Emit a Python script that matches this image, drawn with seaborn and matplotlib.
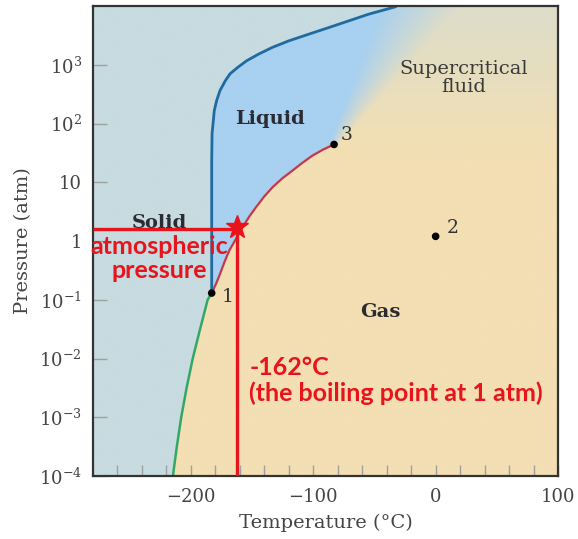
import numpy as np
import matplotlib
matplotlib.use("Agg")
import matplotlib.pyplot as plt
import seaborn as sns
from matplotlib.colors import to_rgb
from matplotlib.ticker import FixedLocator, NullLocator, FixedFormatter

# ---------------- data ----------------
melt_temp = [-183.0, -183.0, -182.7, -180.9, -179.0, -176.3, -171.9, -168.0, -161.8, -154.5,
             -144.7, -133.6, -119.9, -103.6, -87.3, -71.0, -54.7, -32.8]
melt_pres = [0.13, 23, 67, 165, 244, 361, 534, 702, 899, 1167,
             1517, 1967, 2555, 3319, 4297, 5585, 7261, 9700]
vap_temp = [-183.0, -179.4, -176.1, -172.6, -168.6, -163.1, -157.7, -152.3, -146.8, -140.1,
            -133.3, -125.2, -117.0, -108.9, -100.7, -92.0, -83.0]
vap_pres = [0.13, 0.188, 0.278, 0.438, 0.692, 1.09, 1.72, 2.61, 3.76, 5.71,
            8.22, 11.7, 15.8, 21.4, 28.4, 36.0, 44.0]
sub_temp = [-214.7, -211.5, -207.9, -203.5, -198.5, -192.5, -186.3, -183.0]
sub_pres = [1e-4, 3.16e-4, 1e-3, 3.16e-3, 1e-2, 3.16e-2, 1e-1, 0.13]
point_labels = ['1', '2', '3']
point_temp = [-183.0, 0.0, -83.0]
point_pres = [0.13, 1.2, 44.0]
boil_temp = -162.0
star_pres = 1.7
atm_line_pres = 1.6
x_limits = (-280, 100)
y_limits = (1e-4, 1e4)
x_major = [-200, -100, 0, 100]
x_major_labels = ['\u2212200', '\u2212100', '0', '100']
x_minor = list(range(-260, 100, 20))
y_major = [1e-4, 1e-3, 1e-2, 1e-1, 1, 10, 100, 1000]
y_major_labels = [r'$10^{-4}$', r'$10^{-3}$', r'$10^{-2}$', r'$10^{-1}$', '1', '10', r'$10^{2}$', r'$10^{3}$']

# ---------------- style ----------------
sns.set_theme(style="white")
plt.rcParams['font.family'] = ['DejaVu Serif']
plt.rcParams['mathtext.fontset'] = 'dejavuserif'

c_solid = np.array(to_rgb('#c7dbe0'))
c_liq = np.array(to_rgb('#a8d0f0'))
c_gas = np.array(to_rgb('#f3dfb3'))
col_melt = '#1f6aa0'
col_vap = '#c4384c'
col_sub = '#33a866'
col_red = '#e8141c'
txt_col = '#2b2b33'

fig = plt.figure(figsize=(5.78, 5.39), dpi=100)
rect = [93 / 578, 63 / 539, 465 / 578, 470 / 539]

# ---------------- background regions (derived from the curves) ----------------
ax_bg = fig.add_axes(rect)
nx, ny = 760, 800
Tg = np.linspace(x_limits[0], x_limits[1], nx)
LPg = np.linspace(np.log10(y_limits[0]), np.log10(y_limits[1]), ny)
TT, LL = np.meshgrid(Tg, LPg)
lp1 = np.log10(point_pres[0])
lpc = np.log10(point_pres[2])
Tc = point_temp[2]
Ts = np.where(LPg <= lp1,
              np.interp(LPg, np.log10(sub_pres), sub_temp),
              np.interp(LPg, np.log10(melt_pres), melt_temp, right=melt_temp[-1] + 3))[:, None]
Tv = np.interp(LPg, np.log10(vap_pres), vap_temp)[:, None]

m = (np.clip((LL - 1.5) / 2.5, 0, 1) * 0.5)[..., None]
gas = c_gas * (1 - m) + c_solid * m
Lw = np.zeros_like(TT)
below = (LL > lp1) & (LL <= lpc)
Lw = np.where(below & (TT < Tv), 1.0, Lw)
d = LL - lpc
Tb = Tc + 30 * d
w = 8 + 25 * d
Lw = np.where(LL > lpc, np.clip(0.5 - (TT - Tb) / np.maximum(w, 1e-6), 0, 1), Lw)
img = gas * (1 - Lw[..., None]) + c_liq * Lw[..., None]
img = np.where((TT < Ts)[..., None], c_solid, img)
ax_bg.imshow(img, origin='lower', aspect='auto', interpolation='bilinear',
             extent=[x_limits[0], x_limits[1], LPg[0], LPg[-1]])
ax_bg.set_xlim(*x_limits)
ax_bg.set_ylim(LPg[0], LPg[-1])
ax_bg.axis('off')

# ---------------- main axes ----------------
ax = fig.add_axes(rect)
ax.set_facecolor('none')
ax.set_yscale('log')
ax.set_xlim(*x_limits)
ax.set_ylim(*y_limits)

sns.lineplot(x=sub_temp, y=sub_pres, ax=ax, color=col_sub, lw=1.8, sort=False, estimator=None)
sns.lineplot(x=vap_temp, y=vap_pres, ax=ax, color=col_vap, lw=1.6, sort=False, estimator=None)
sns.lineplot(x=melt_temp + [melt_temp[-1] + 3], y=melt_pres + [y_limits[1] * 1.1], ax=ax,
             color=col_melt, lw=2.0, sort=False, estimator=None)

# annotation lines for 1 atm boiling point
ax.hlines(atm_line_pres, x_limits[0], boil_temp, color=col_red, lw=2.4, zorder=5)
ax.vlines(boil_temp, y_limits[0], atm_line_pres, color=col_red, lw=2.4, zorder=5)

sns.scatterplot(x=point_temp, y=point_pres, ax=ax, color='black', s=30, zorder=6, edgecolor='none')
ax.plot([boil_temp], [star_pres], marker='*', ms=17, color=col_red, mec=col_red, zorder=7, ls='none')

label_offsets = {'1': (-174.5, 0.11), '2': (9.0, 1.67), '3': (-77.5, 63)}
for lab in point_labels:
    ax.text(*label_offsets[lab], lab, fontsize=13.5, color='#333333', ha='left', va='center')

# region labels
ax.text(-226, 2.05, 'Solid', fontsize=14, fontweight='bold', color=txt_col, ha='center', va='center', zorder=4)
ax.text(-135, 120, 'Liquid', fontsize=14, fontweight='bold', color=txt_col, ha='center', va='center')
ax.text(-45, 0.062, 'Gas', fontsize=14, fontweight='bold', color=txt_col, ha='center', va='center')
ax.text(23, 600, 'Supercritical\nfluid', fontsize=14, color='#3a3a3a', ha='center', va='center', linespacing=1.0)

# red annotation texts
ax.text(-225.5, 0.5, 'atmospheric\npressure', fontsize=18, fontweight='bold', color=col_red,
        ha='center', va='center', family=['Lato', 'DejaVu Sans'], linespacing=1.05, zorder=8)
ax.text(-152.3, 0.0042, '-162\u00b0C\n(the boiling point at 1 atm)', fontsize=18, fontweight='bold',
        color=col_red, ha='left', va='center', family=['Lato', 'DejaVu Sans'], linespacing=1.1, zorder=8)

# ticks
ax.xaxis.set_major_locator(FixedLocator(x_major))
ax.xaxis.set_major_formatter(FixedFormatter(x_major_labels))
ax.xaxis.set_minor_locator(FixedLocator(x_minor))
ax.yaxis.set_major_locator(FixedLocator(y_major))
ax.yaxis.set_major_formatter(FixedFormatter(y_major_labels))
ax.yaxis.set_minor_locator(NullLocator())
ax.tick_params(axis='x', which='both', direction='in', length=8, width=1, color='#a0a0a0',
               labelsize=13, labelcolor='#444444', pad=9, bottom=True)
ax.tick_params(axis='y', which='both', direction='in', length=10, width=1, color='#a0a0a0',
               labelsize=13, labelcolor='#444444', pad=8, left=True)
for s in ax.spines.values():
    s.set_color('#333333')
    s.set_linewidth(1.6)
    s.set_visible(True)

ax.set_xlabel('Temperature (\u00b0C)', fontsize=14, color='#444444', labelpad=5)
ax.set_ylabel('Pressure (atm)', fontsize=14, color='#444444', labelpad=5)

fig.savefig('out.png', dpi=100)
